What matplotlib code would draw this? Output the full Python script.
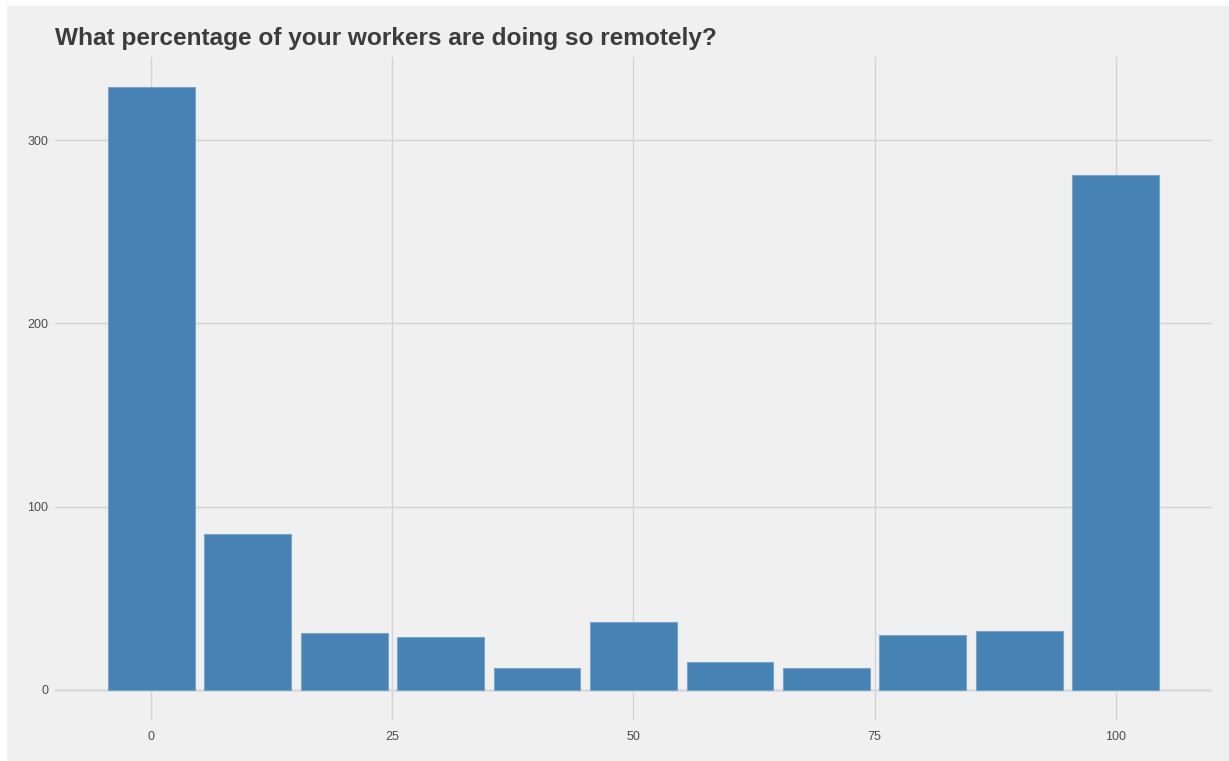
import numpy as np
import matplotlib.pyplot as plt
from matplotlib.patches import Rectangle

# share of workers doing so remotely (binned) and number of responses
pct_bins = [0, 10, 20, 30, 40, 50, 60, 70, 80, 90, 100]
counts = [329, 85, 31, 29, 12, 37, 15, 12, 30, 32, 281]
x_ticks = [0, 25, 50, 75, 100]
y_ticks = [0, 100, 200, 300]

title = 'What percentage of your workers are doing so remotely?'

W, H = 1229, 761
bg = '#f0f0f0'
grid_col = '#d4d4d4'

fig = plt.figure(figsize=(W / 100, H / 100), dpi=100, facecolor='white')
fig.patches.append(Rectangle((7 / W, 0), 1 - 7 / W, 1 - 6 / H,
                             transform=fig.transFigure, facecolor=bg,
                             edgecolor='none', zorder=-10))

ax = fig.add_axes([55 / W, 1 - 720 / H, (1212 - 55) / W, (720 - 57) / H])
ax.set_facecolor(bg)

ax.bar(pct_bins, counts, width=9, color='#4682b4', edgecolor='#7ba5c8',
       linewidth=0.8, zorder=3)

ymax = max(counts)
ax.set_xlim(-10, 110)
ax.set_ylim(-0.05 * ymax, 1.05 * ymax)

ax.set_xticks(x_ticks)
ax.set_yticks(y_ticks)
ax.set_xticklabels([str(v) for v in x_ticks])
ax.set_yticklabels([str(v) for v in y_ticks])
ax.tick_params(length=0, labelsize=9, labelcolor='#4d4d4d')
ax.tick_params(axis='y', pad=5)
ax.tick_params(axis='x', pad=8)
for lab in ax.get_xticklabels() + ax.get_yticklabels():
    lab.set_family('Liberation Sans')

ax.grid(True, color=grid_col, linewidth=1.0, zorder=0)
ax.set_axisbelow(True)
ax.axhline(0, color='#dcdcdc', linewidth=2.0, zorder=2)
for s in ax.spines.values():
    s.set_visible(False)

fig.text(55 / W, 1 - 45 / H, title, fontsize=17.6, fontweight='bold',
         family='Liberation Sans', color='#3c3c3c', ha='left', va='baseline')

fig.savefig('out.png', dpi=100, facecolor='white')
